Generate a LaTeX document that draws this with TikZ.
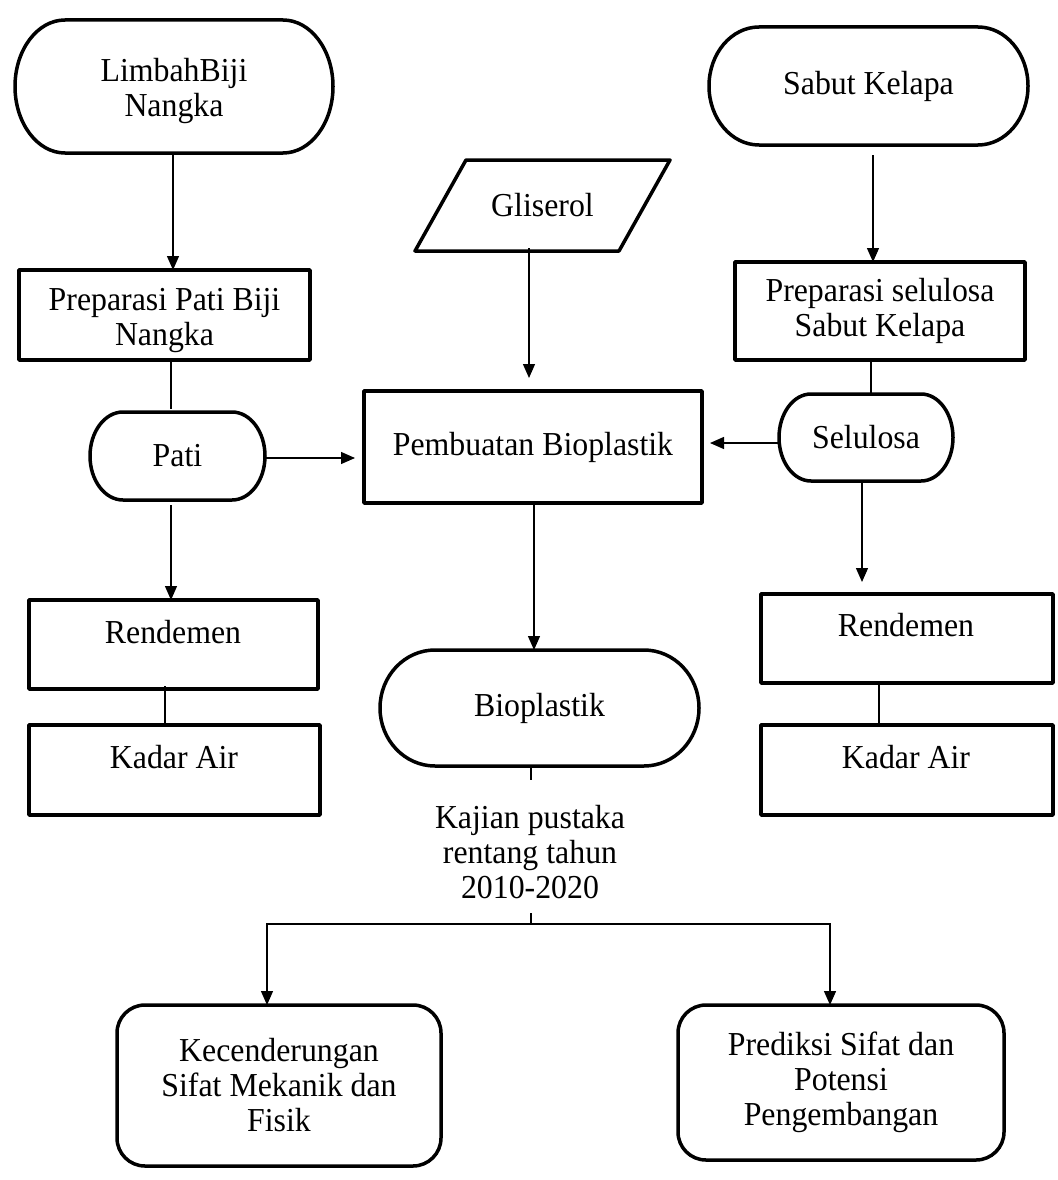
\documentclass[tikz,border=0pt]{standalone}
\usepackage{fontspec}
\setmainfont{Liberation Serif}[FakeStretch=0.95]
\usetikzlibrary{arrows.meta,calc}
\newcommand\drawstadium[2]{%
  \coordinate (#1-tl) at ($(#1.north west)+(#2,0)$);
  \coordinate (#1-tr) at ($(#1.north east)+(-#2,0)$);
  \coordinate (#1-bl) at ($(#1.south west)+(#2,0)$);
  \coordinate (#1-br) at ($(#1.south east)+(-#2,0)$);
  \draw[frame] (#1-tl) -- (#1-tr)
    .. controls ($(#1-tr)!0.552!(#1.north east)$) and ($(#1.east)!0.552!(#1.north east)$) .. (#1.east)
    .. controls ($(#1.east)!0.552!(#1.south east)$) and ($(#1-br)!0.552!(#1.south east)$) .. (#1-br)
    -- (#1-bl)
    .. controls ($(#1-bl)!0.552!(#1.south west)$) and ($(#1.west)!0.552!(#1.south west)$) .. (#1.west)
    .. controls ($(#1.west)!0.552!(#1.north west)$) and ($(#1-tl)!0.552!(#1.north west)$) .. (#1-tl) -- cycle;}
\begin{document}
\begin{tikzpicture}[x=1pt,y=-1pt,
  frame/.style={draw=black, line width=3.5pt, line join=round},
  txt/.style={font=\fontsize{33.5}{35}\selectfont, align=center, inner sep=0pt},
  ghost/.style={rectangle, inner sep=0pt, outer sep=0pt},
  boxn/.style={frame, rectangle, inner sep=0pt, outer sep=0pt},
  roundn/.style={boxn, rounded corners=28pt},
  conn/.style={line width=1.3pt},
  arr/.style={conn, -{Triangle[length=14pt,width=12pt]}}]
\fill[white] (0,0) rectangle (1057,1180);
\useasboundingbox (0,0) rectangle (1057,1180);

% left column
\node[ghost, minimum width=318pt, minimum height=133pt] (limbah) at (174,86.5) {};
\drawstadium{limbah}{50}
\node[txt] (limbaht) at (174,91) {LimbahBiji\\Nangka};

\node[boxn, minimum width=291pt, minimum height=90pt] (prep1) at (164.5,315) {};
\node[txt] (prep1t) at (164.5,321) {Preparasi Pati Biji\\Nangka};

\node[ghost, txt, minimum width=175pt, minimum height=88pt] (pati) at (177.5,456) {Pati};
\drawstadium{pati}{33}

\node[boxn, minimum width=289pt, minimum height=89pt] (rend1) at (173.5,644.5) {};
\node[txt] (rend1t) at (173,632) {Rendemen};
\node[boxn, minimum width=291pt, minimum height=90pt] (kadar1) at (174.5,770) {};
\node[txt] (kadar1t) at (174,757) {Kadar Air};

% middle column
\node[ghost, txt, minimum width=255pt, minimum height=91pt] (gli) at (542.5,205.5) {Gliserol};
\draw[frame] ($(gli.north west)+(51,0)$) -- (gli.north east) -- ($(gli.south east)+(-51,0)$) -- (gli.south west) -- cycle;
\node[boxn, txt, minimum width=338pt, minimum height=112pt] (pemb) at (533,447) {Pembuatan Bioplastik};
\node[ghost, txt, minimum width=319pt, minimum height=116pt] (bio) at (539.5,708) {Bioplastik};
\drawstadium{bio}{55}
\node[txt] (kaj) at (530,852) {Kajian pustaka\\rentang tahun\\2010-2020};

% right column
\node[ghost, txt, minimum width=319pt, minimum height=118pt] (sabut) at (868.5,86) {Sabut Kelapa};
\drawstadium{sabut}{50}
\node[boxn, txt, minimum width=290pt, minimum height=98pt] (prep2) at (880,311) {Preparasi selulosa\\Sabut Kelapa};
\node[ghost, txt, minimum width=174pt, minimum height=87pt] (selu) at (866,437.5) {Selulosa};
\drawstadium{selu}{32}
\node[boxn, minimum width=292pt, minimum height=89pt] (rend2) at (907,638.5) {};
\node[txt] (rend2t) at (906,625) {Rendemen};
\node[boxn, minimum width=292pt, minimum height=90pt] (kadar2) at (907,770) {};
\node[txt] (kadar2t) at (906,757) {Kadar Air};

% bottom
\node[roundn, txt, minimum width=324pt, minimum height=161pt] (kec) at (279,1085.5) {Kecenderungan\\Sifat Mekanik dan\\Fisik};
\node[roundn, txt, minimum width=326pt, minimum height=155pt] (pred) at (841,1082.5) {Prediksi Sifat dan\\Potensi\\Pengembangan};

% connectors
\draw[arr] ([xshift=-1pt]limbah.south) -- ([xshift=8.5pt]prep1.north);
\draw[conn, shorten >=3pt] ([xshift=6.5pt]prep1.south) -- ([xshift=-6.5pt]pati.north);
\draw[arr, shorten >=9pt] ([yshift=-2pt]pati.east) -- ([yshift=-11pt]pemb.west);
\draw[arr, shorten <=5pt] ([xshift=-6.5pt]pati.south) -- ([xshift=-2.5pt]rend1.north);
\draw[conn] ([xshift=-8.5pt,yshift=3pt]rend1.south) -- ([xshift=-9.5pt]kadar1.north);

\draw[arr, shorten >=13pt] ([xshift=-13.5pt,yshift=3pt]gli.south) -- ([xshift=-4pt]pemb.north);
\draw[arr, shorten >=8pt] ([yshift=-5.5pt]selu.west) -- ([yshift=4pt]pemb.east);
\draw[conn] ([xshift=-9pt]prep2.south) -- ([xshift=5pt]selu.north);
\draw[arr, shorten <=10pt] ([xshift=4.5pt]sabut.south) -- ([xshift=-7pt]prep2.north);
\draw[arr, shorten >=12pt] ([xshift=-4pt]selu.south) -- ([xshift=-45pt]rend2.north);
\draw[conn] ([xshift=-28pt]rend2.south) -- ([xshift=-28pt]kadar2.north);

\draw[arr] ([xshift=1pt]pemb.south) -- ([xshift=-5.5pt]bio.north);
\coordinate (s1) at (531,780);
\draw[conn] ([xshift=-8.5pt]bio.south) -- (s1);
\coordinate (s2) at (531,913);
\coordinate (jn) at (531,924);
\draw[conn] (s2) -- (jn);
\draw[arr] (jn) -| ([xshift=-12pt]kec.north);
\draw[arr] (jn) -| ([xshift=-11pt]pred.north);
\end{tikzpicture}
\end{document}
